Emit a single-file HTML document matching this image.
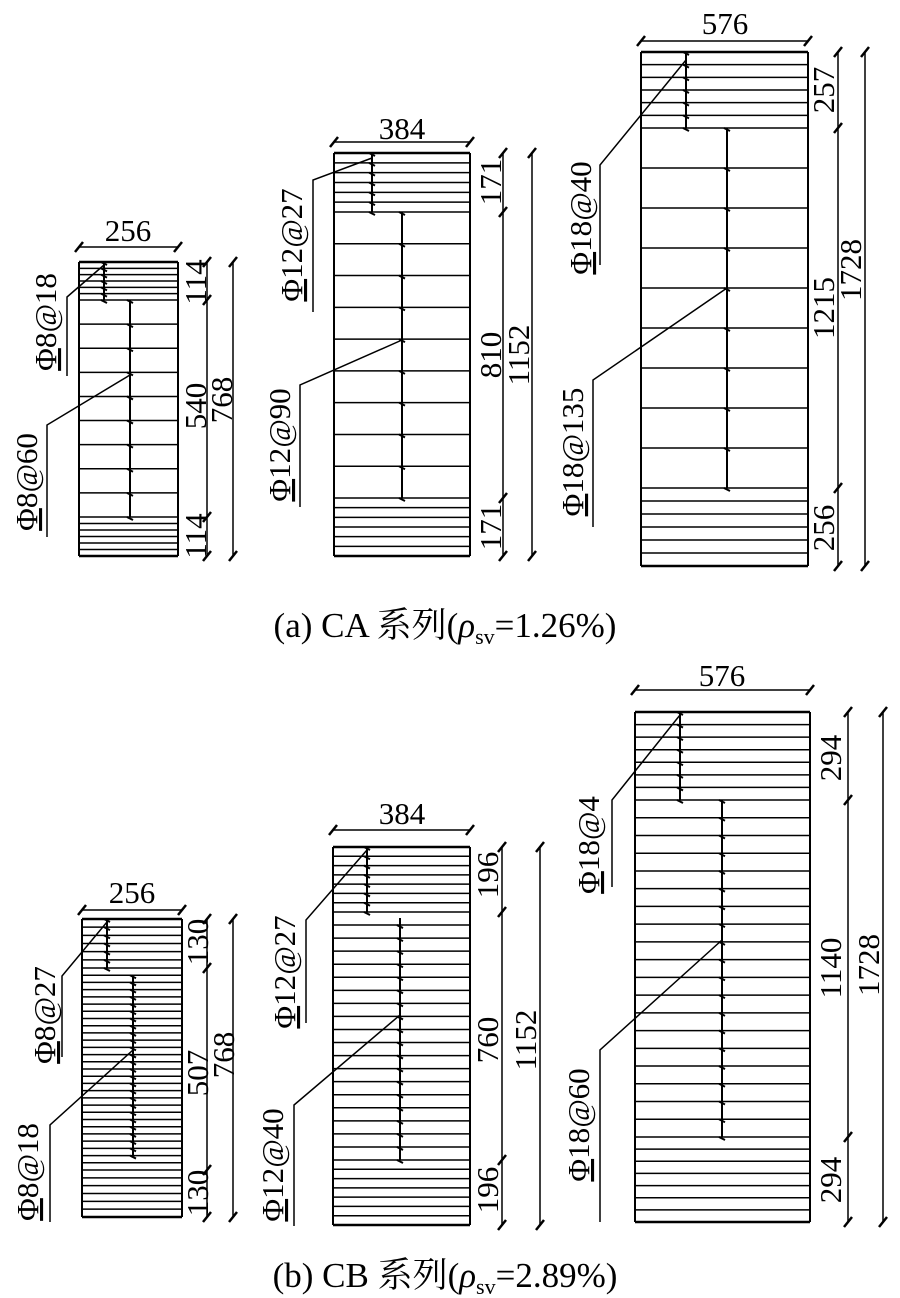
<!DOCTYPE html>
<html><head><meta charset="utf-8">
<style>
html,body{margin:0;padding:0;background:#fff;}
svg{display:block;}
text{font-family:"Liberation Serif","Noto Serif CJK SC",serif;fill:#000;}
</style></head>
<body>
<svg id="s" width="900" height="1298" viewBox="0 0 900 1298" xmlns="http://www.w3.org/2000/svg">
<g id="g" stroke="#000" fill="none"></g>
<g font-size="31">
<!-- a1 -->
<text x="128" y="241" text-anchor="middle">256</text>
<text transform="translate(206,282) rotate(-90)" text-anchor="middle">114</text>
<text transform="translate(206,406) rotate(-90)" text-anchor="middle">540</text>
<text transform="translate(232,400) rotate(-90)" text-anchor="middle">768</text>
<text transform="translate(206,536) rotate(-90)" text-anchor="middle">114</text>
<text transform="translate(56,322) rotate(-90)" text-anchor="middle"><tspan text-decoration="underline">Φ</tspan>8<tspan font-style="italic">@</tspan>18</text>
<text transform="translate(37,482) rotate(-90)" text-anchor="middle"><tspan text-decoration="underline">Φ</tspan>8<tspan font-style="italic">@</tspan>60</text>
<!-- a2 -->
<text x="402" y="139" text-anchor="middle">384</text>
<text transform="translate(501,182) rotate(-90)" text-anchor="middle">171</text>
<text transform="translate(501,355) rotate(-90)" text-anchor="middle">810</text>
<text transform="translate(529,355) rotate(-90)" text-anchor="middle">1152</text>
<text transform="translate(501,527) rotate(-90)" text-anchor="middle">171</text>
<text transform="translate(302,245) rotate(-90)" text-anchor="middle"><tspan text-decoration="underline">Φ</tspan>12<tspan font-style="italic">@</tspan>27</text>
<text transform="translate(290,445) rotate(-90)" text-anchor="middle"><tspan text-decoration="underline">Φ</tspan>12<tspan font-style="italic">@</tspan>90</text>
<!-- a3 -->
<text x="725" y="34" text-anchor="middle">576</text>
<text transform="translate(834,90) rotate(-90)" text-anchor="middle">257</text>
<text transform="translate(834,308) rotate(-90)" text-anchor="middle">1215</text>
<text transform="translate(861,270) rotate(-90)" text-anchor="middle">1728</text>
<text transform="translate(834,528) rotate(-90)" text-anchor="middle">256</text>
<text transform="translate(591,218) rotate(-90)" text-anchor="middle"><tspan text-decoration="underline">Φ</tspan>18<tspan font-style="italic">@</tspan>40</text>
<text transform="translate(583,452) rotate(-90)" text-anchor="middle"><tspan text-decoration="underline">Φ</tspan>18<tspan font-style="italic">@</tspan>135</text>
<text x="445" y="637" text-anchor="middle" font-size="35">(a) CA 系列(<tspan font-style="italic">ρ</tspan><tspan font-size="22" dy="7">sv</tspan><tspan dy="-7">=1.26%)</tspan></text>
<!-- b1 -->
<text x="132" y="903" text-anchor="middle">256</text>
<text transform="translate(208,942) rotate(-90)" text-anchor="middle">130</text>
<text transform="translate(208,1073) rotate(-90)" text-anchor="middle">507</text>
<text transform="translate(234,1055) rotate(-90)" text-anchor="middle">768</text>
<text transform="translate(208,1193) rotate(-90)" text-anchor="middle">130</text>
<text transform="translate(55,1015) rotate(-90)" text-anchor="middle"><tspan text-decoration="underline">Φ</tspan>8<tspan font-style="italic">@</tspan>27</text>
<text transform="translate(38,1172) rotate(-90)" text-anchor="middle"><tspan text-decoration="underline">Φ</tspan>8<tspan font-style="italic">@</tspan>18</text>
<!-- b2 -->
<text x="402" y="824" text-anchor="middle">384</text>
<text transform="translate(498,875) rotate(-90)" text-anchor="middle">196</text>
<text transform="translate(498,1040) rotate(-90)" text-anchor="middle">760</text>
<text transform="translate(536,1040) rotate(-90)" text-anchor="middle">1152</text>
<text transform="translate(498,1190) rotate(-90)" text-anchor="middle">196</text>
<text transform="translate(295,972) rotate(-90)" text-anchor="middle"><tspan text-decoration="underline">Φ</tspan>12<tspan font-style="italic">@</tspan>27</text>
<text transform="translate(283,1165) rotate(-90)" text-anchor="middle"><tspan text-decoration="underline">Φ</tspan>12<tspan font-style="italic">@</tspan>40</text>
<!-- b3 -->
<text x="722" y="686" text-anchor="middle">576</text>
<text transform="translate(841,758) rotate(-90)" text-anchor="middle">294</text>
<text transform="translate(841,968) rotate(-90)" text-anchor="middle">1140</text>
<text transform="translate(879,965) rotate(-90)" text-anchor="middle">1728</text>
<text transform="translate(841,1180) rotate(-90)" text-anchor="middle">294</text>
<text transform="translate(599,845) rotate(-90)" text-anchor="middle"><tspan text-decoration="underline">Φ</tspan>18<tspan font-style="italic">@</tspan>4</text>
<text transform="translate(589,1125) rotate(-90)" text-anchor="middle"><tspan text-decoration="underline">Φ</tspan>18<tspan font-style="italic">@</tspan>60</text>
<text x="445" y="1287" text-anchor="middle" font-size="35">(b) CB 系列(<tspan font-style="italic">ρ</tspan><tspan font-size="22" dy="7">sv</tspan><tspan dy="-7">=2.89%)</tspan></text>
</g>
</svg>
<script>
var g=document.getElementById('g'),NS='http://www.w3.org/2000/svg';
function L(x1,y1,x2,y2,w){var e=document.createElementNS(NS,'line');e.setAttribute('x1',x1);e.setAttribute('y1',y1);e.setAttribute('x2',x2);e.setAttribute('y2',y2);e.setAttribute('stroke-width',w||1.5);g.appendChild(e);}
function P(pts){var e=document.createElementNS(NS,'polyline');e.setAttribute('points',pts);e.setAttribute('stroke-width',1.5);g.appendChild(e);}
function tick(x,y){L(x-4,y+5,x+4,y-5,2.5);}
function panel(o){
 var x1=o.x1,x2=o.x2,y1=o.y1,y2=o.y2,z1=o.z1,z2=o.z2;
 L(x1,y1,x2,y1,2.5);L(x1,y2,x2,y2,2.5);L(x1,y1,x1,y2,2);L(x2,y1,x2,y2,2);
 var ys=[],i;
 for(i=0;i<=o.n1;i++)ys.push(y1+(z1-y1)*i/o.n1);
 for(i=1;i<=o.n2;i++)ys.push(z1+(z2-z1)*i/o.n2);
 for(i=1;i<=o.n3;i++)ys.push(z2+(y2-z2)*i/o.n3);
 ys.forEach(function(y){L(x1,y,x2,y,1.5);});
 L(o.s1,y1+2,o.s1,z1,2);
 for(i=0;i<=o.n1;i++){var y=y1+(z1-y1)*i/o.n1;L(o.s1-3,y,o.s1+3,y+3,2);}
 L(o.s2,z1+(o.m0||0),o.s2,z2-(o.m1||0),2);
 for(i=0;i<=o.n2;i++){var y=z1+(z2-z1)*i/o.n2;if(y<z1+(o.m0||0)-1||y>z2-(o.m1||0)+1)continue;L(o.s2-3,y,o.s2+3,y+3,2);}
 L(x1,o.dy,x2,o.dy,1.5);tick(x1,o.dy);tick(x2,o.dy);
 L(o.d1,y1,o.d1,y2,1.5);[y1,z1,z2,y2].forEach(function(y){tick(o.d1,y);});
 L(o.d2,y1,o.d2,y2,1.5);tick(o.d2,y1);tick(o.d2,y2);
 P(o.l1);P(o.l2);
}
panel({x1:79,x2:178,y1:262,y2:556,z1:300,z2:517,n1:6,n2:9,n3:6,s1:104,s2:130,dy:247,d1:207,d2:233,
 l1:"104,265 67,297 67,376",l2:"130,375 47,425 47,537"});
panel({x1:334,x2:470,y1:153,y2:556,z1:212,z2:498,n1:6,n2:9,n3:6,s1:372,s2:402,dy:142,d1:503,d2:532,
 l1:"372,158 313,180 313,312",l2:"402,340 300,385 300,507"});
panel({x1:641,x2:808,y1:52,y2:566,z1:128,z2:488,n1:6,n2:9,n3:6,s1:686,s2:727,dy:41,d1:838,d2:865,
 l1:"686,60 600,165 600,265",l2:"727,288 593,380 593,527"});
panel({x1:82,x2:182,y1:919,y2:1217,z1:968,z2:1170,n1:6,n2:28,n3:6,s1:107,s2:133,m0:7,m1:14,dy:910,d1:207,d2:233,
 l1:"107,922 62,976 62,1057",l2:"133,1050 50,1125 50,1222"});
panel({x1:333,x2:470,y1:847,y2:1225,z1:912,z2:1160,n1:7,n2:19,n3:7,s1:367,s2:400,m0:6,dy:830,d1:502,d2:540,
 l1:"367,850 306,920 306,1023",l2:"400,1015 294,1105 294,1226"});
panel({x1:635,x2:810,y1:712,y2:1222,z1:800,z2:1137,n1:7,n2:19,n3:7,s1:680,s2:722,dy:690,d1:848,d2:883,
 l1:"680,715 612,800 612,887",l2:"722,940 600,1050 600,1222"});
</script>
</body></html>
